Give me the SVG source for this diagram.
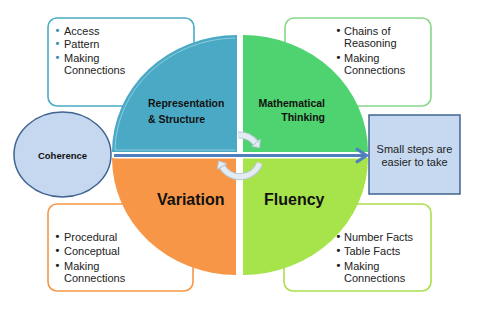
<svg xmlns="http://www.w3.org/2000/svg" width="485" height="309" viewBox="0 0 485 309">
<style>
.box{fill:#fff;stroke-width:1.6}
.t{font-family:"Liberation Sans",Arial,sans-serif;font-size:11px;fill:#222}
.b{font-family:"Liberation Sans",Arial,sans-serif;font-weight:bold;fill:#111}
.bul{font-family:"Liberation Sans",Arial,sans-serif;font-size:11px;font-weight:bold}
.rib{fill:none;stroke:#b9cad8;stroke-width:7}
.ribi{fill:none;stroke:#e3ecf3;stroke-width:5}
.head{fill:#e3ecf3;stroke:#b9cad8;stroke-width:1}
</style>
<rect width="485" height="309" fill="#fff"/>
<g id="box-representation">
<rect class="box" x="48" y="18" width="146" height="88" rx="9" stroke="#4bacc6"/>
<text class="bul" x="55.5" y="34" fill="#3d8fb0">•</text><text class="t" x="64" y="35">Access</text>
<text class="bul" x="55.5" y="47" fill="#3d8fb0">•</text><text class="t" x="64" y="48">Pattern</text>
<text class="bul" x="55.5" y="61" fill="#3d8fb0">•</text><text class="t" x="64" y="62">Making</text>
<text class="t" x="64" y="74">Connections</text>
</g>
<g id="box-thinking">
<rect class="box" x="285" y="18" width="146" height="88" rx="9" stroke="#86d886"/>
<text class="bul" x="336.5" y="34" fill="#222">•</text><text class="t" x="344" y="35">Chains of</text>
<text class="t" x="344" y="47">Reasoning</text>
<text class="bul" x="336.5" y="61" fill="#222">•</text><text class="t" x="344" y="62">Making</text>
<text class="t" x="344" y="74">Connections</text>
</g>
<g id="box-variation">
<rect class="box" x="48" y="204" width="145" height="87" rx="9" stroke="#f79646"/>
<text class="bul" x="55.5" y="240" fill="#222">•</text><text class="t" x="64" y="241">Procedural</text>
<text class="bul" x="55.5" y="254" fill="#222">•</text><text class="t" x="64" y="255">Conceptual</text>
<text class="bul" x="55.5" y="269" fill="#222">•</text><text class="t" x="64" y="270">Making</text>
<text class="t" x="64" y="282">Connections</text>
</g>
<g id="box-fluency">
<rect class="box" x="284" y="204" width="147" height="87" rx="9" stroke="#a9e04c"/>
<text class="bul" x="336.5" y="240" fill="#222">•</text><text class="t" x="344" y="241">Number Facts</text>
<text class="bul" x="336.5" y="254" fill="#222">•</text><text class="t" x="344" y="255">Table Facts</text>
<text class="bul" x="336.5" y="269" fill="#222">•</text><text class="t" x="344" y="270">Making</text>
<text class="t" x="344" y="282">Connections</text>
</g>
<g id="quad-representation">
<path d="M237,152 L112,152 A125,117 0 0 1 237,35 Z" fill="#4aaac5"/>
<path d="M235,150 L115,150 A122,114 0 0 1 235,38" fill="none" stroke="#9fd3e2" stroke-width="0.8"/>
<text class="b" x="148" y="107" font-size="10.5">Representation</text>
<text class="b" x="148" y="123" font-size="10.5">&amp; Structure</text>
</g>
<g id="quad-thinking">
<path d="M243,152 L243,35 A125,117 0 0 1 368,152 Z" fill="#4fd270"/>
<text class="b" x="325" y="107" font-size="10.5" text-anchor="end">Mathematical</text>
<text class="b" x="325" y="121" font-size="10.5" text-anchor="end">Thinking</text>
</g>
<g id="quad-variation">
<path d="M236,158 L236,275 A124,117 0 0 1 112,158 Z" fill="#f79646"/>
<text class="b" x="157" y="205" font-size="16">Variation</text>
</g>
<g id="quad-fluency">
<path d="M243,158 L368,158 A125,117 0 0 1 243,275 Z" fill="#a7e34b"/>
<text class="b" x="264" y="205" font-size="16">Fluency</text>
</g>
<g id="connectors">
<path class="rib" d="M238.2,135.1 A21,21 0 0 1 255.5,142.8"/>
<path class="ribi" d="M238.2,135.1 A21,21 0 0 1 255.5,142.8"/>
<polygon class="head" points="260.2,139.3 251.8,146.4 259.6,147.6"/>
<path class="rib" d="M259.7,163.2 A21,21 0 0 1 222.3,166.8"/>
<path class="ribi" d="M259.7,163.2 A21,21 0 0 1 222.3,166.8"/>
<polygon class="head" points="217.2,169.2 226.8,163.8 218.6,160.8"/>
<line x1="114" y1="155.5" x2="364" y2="155.5" stroke="#fff" stroke-width="6"/>
<line x1="114" y1="155.5" x2="365" y2="155.5" stroke="#4f7fbf" stroke-width="3"/>
<polyline points="356,148.5 366.5,155.5 356,162.5" fill="none" stroke="#4f7fbf" stroke-width="3.2" stroke-linejoin="miter"/>
</g>
<g id="coherence">
<ellipse cx="62.5" cy="154.5" rx="48.5" ry="42.5" fill="#c6d8ef" stroke="#3f6491" stroke-width="1.5"/>
<text class="b" x="62.5" y="158.5" font-size="9.5" text-anchor="middle">Coherence</text>
</g>
<g id="small-steps">
<rect x="369" y="115" width="91" height="79" fill="#c6d9f0" stroke="#41648f" stroke-width="1.5"/>
<text class="t" x="414.5" y="153" font-size="10.5" text-anchor="middle">Small steps are</text>
<text class="t" x="414.5" y="166" font-size="10.5" text-anchor="middle">easier to take</text>
</g>
</svg>
